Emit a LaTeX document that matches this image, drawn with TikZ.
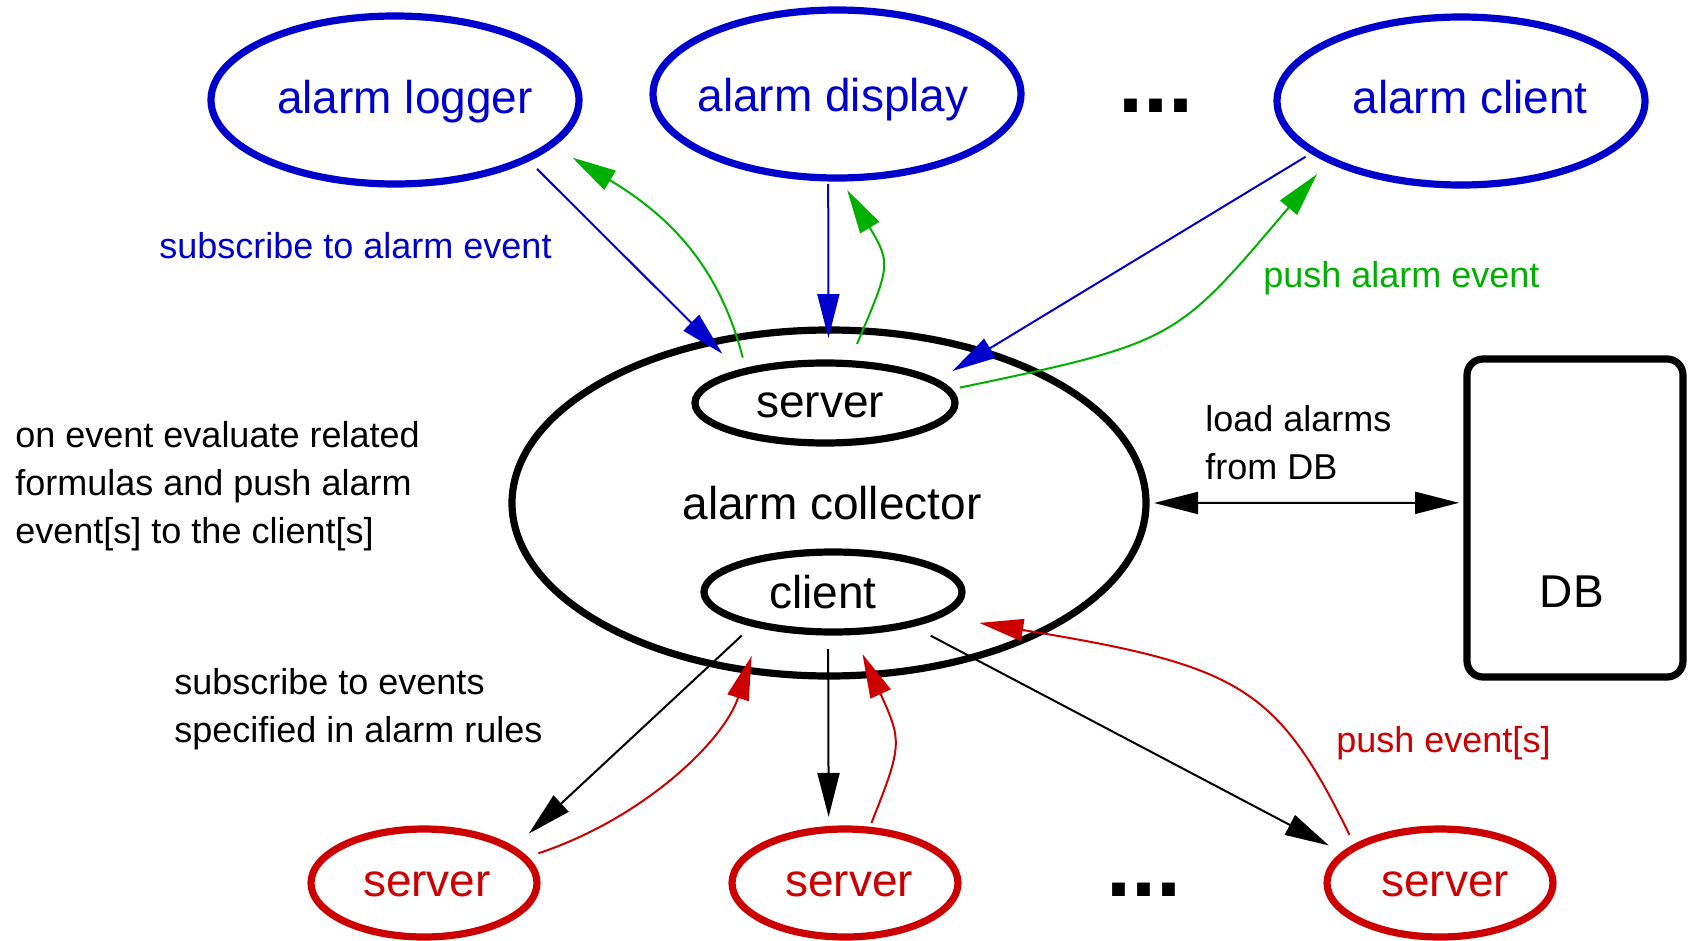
\documentclass[tikz,border=0pt]{standalone}
\usepackage{fontspec}
\setmainfont{Liberation Sans}
\usetikzlibrary{shapes.geometric,arrows.meta}

\definecolor{evblue}{RGB}{0,0,204}
\definecolor{evgreen}{RGB}{0,176,0}
\definecolor{evred}{RGB}{204,0,0}

\newcommand{\nodefont}{\fontsize{23}{27}\selectfont}
\newcommand{\labfont}{\fontsize{18}{24}\selectfont}

\tikzset{
  proc/.style={ellipse, draw, line width=3.6pt, inner sep=0pt, outer sep=0pt},
  topproc/.style={proc, draw=evblue, minimum width=184pt, minimum height=84pt},
  botproc/.style={proc, draw=evred, minimum width=113pt, minimum height=54pt},
  ptext/.style={font=\nodefont, inner sep=0pt},
  lab/.style={inner sep=0pt, font=\labfont},
  dots/.style={inner sep=0pt, font=\fontsize{45}{50}\selectfont\bfseries},
  conn/.style={line width=1pt, -{Triangle[length=22pt,width=11pt]}},
}

\begin{document}
\begin{tikzpicture}[x=0.5pt, y=-0.5pt]

\useasboundingbox (0,0) rectangle (1690,941);

% clients of the alarm service
\node[topproc, label={[ptext, text=evblue, shift={(5pt,-1pt)}]center:alarm logger}] (logger) at (395,100) {};
\node[topproc, label={[ptext, text=evblue, shift={(-2pt,-3pt)}]center:alarm display}] (display) at (837,94) {};
\node[topproc, label={[ptext, text=evblue, shift={(4.5pt,2pt)}]center:alarm client}] (aclient) at (1461,101) {};
\node[dots, anchor=base] (topdots) at (1156,113) {...};

% alarm collector with its server and client parts
\node[proc, minimum width=317pt, minimum height=173pt,
  label={[ptext, shift={(1.5pt,0pt)}]center:alarm collector}] (collector) at (829,503) {};
\node[proc, minimum width=130pt, minimum height=40pt,
  label={[ptext, shift={(-2.5pt,-1pt)}]center:server}] (server) at (825,403) {};
\node[proc, minimum width=129pt, minimum height=40pt,
  label={[ptext, shift={(-5pt,0pt)}]center:client}] (client) at (833,592) {};

\node[draw, line width=3.6pt, rounded corners=8pt, inner sep=0pt, outer sep=0pt,
  minimum width=108pt, minimum height=159pt,
  label={[ptext, shift={(-1.6pt,-36.6pt)}]center:DB}] (db) at (1575,518) {};

% event servers
\node[botproc, label={[ptext, text=evred, shift={(1.5pt,-0.5pt)}]center:server}] (srvA) at (424,883) {};
\node[botproc, label={[ptext, text=evred, shift={(2pt,-0.5pt)}]center:server}] (srvB) at (845,883) {};
\node[botproc, label={[ptext, text=evred, shift={(2.5pt,-0.5pt)}]center:server}] (srvC) at (1440,883) {};
\node[dots, anchor=base] (botdots) at (1144,896) {...};

% texts
\node[lab, text=evblue, anchor=base west] (subtxt) at (159,258) {subscribe to alarm event};
\node[lab, text=evgreen, anchor=base west] (pushtxt) at (1263,287) {push alarm event};
\node[lab, anchor=north west, align=left] (evaltxt) at (15,421) {on event evaluate related\\formulas and push alarm\\event[s] to the client[s]};
\node[lab, anchor=north west, align=left] (loadtxt) at (1205,405) {load alarms\\from DB};
\node[lab, anchor=north west, align=left] (subevtxt) at (174,668) {subscribe to events\\specified in alarm rules};
\node[lab, text=evred, anchor=base west] (pushevtxt) at (1336,752) {push event[s]};

% subscriptions
\draw[conn, evblue, shorten <=7.3pt, shorten >=13.2pt] (logger.-24) -- (server.160.2);
\draw[conn, evblue, shorten <=3pt, shorten >=12.5pt] (display.-96.1) -- (server.85.7);
\draw[conn, evblue, shorten <=5pt, shorten >=10.2pt] (aclient.199.2) -- (server.11.8);

\draw[conn, shorten <=8.6pt, shorten >=11.5pt] (client.-158.8) -- (srvA.21.5);
\draw[conn, shorten <=8.5pt, shorten >=6.3pt] (client.-97.1) -- (srvB.107.7);
\draw[conn, shorten <=12.2pt, shorten >=9.1pt] (client.-23.7) -- (srvC.163.4);

\draw[line width=1pt, {Triangle[length=22pt,width=11pt]}-{Triangle[length=22pt,width=11pt]},
  shorten <=4pt, shorten >=4pt] (collector.0) -- (db.172.1);

% pushed events
\draw[conn, evgreen, shorten <=7pt, shorten >=12.6pt]
  (server.158.7) .. controls +(104.5:52pt) and +(-31:72pt) .. (logger.-16.1);
\draw[conn, evgreen, shorten <=10.7pt, shorten >=7pt]
  (server.59.1) .. controls +(67:53pt) and +(-59:50pt) .. (display.-88.2);
\draw[conn, evgreen, shorten <=6pt, shorten >=9.5pt]
  (server.6.35) .. controls +(11.8:117pt) and +(-130.3:118.5pt) .. (aclient.204.1);

\draw[conn, evred, shorten <=7.5pt, shorten >=16.1pt]
  (srvA.14.9) .. controls +(18.4:62.5pt) and +(-108:61pt) .. (client.205.2);
\draw[conn, evred, shorten <=3.9pt, shorten >=12.3pt]
  (srvB.66.4) .. controls +(68.2:46pt) and +(-65.6:60pt) .. (client.-64.6);
\draw[conn, evred, shorten <=6.9pt, shorten >=21.7pt]
  (srvC.157.3) .. controls +(116.1:89.5pt) and +(-9.3:153.5pt) .. (client.-13.1);

\end{tikzpicture}
\end{document}
